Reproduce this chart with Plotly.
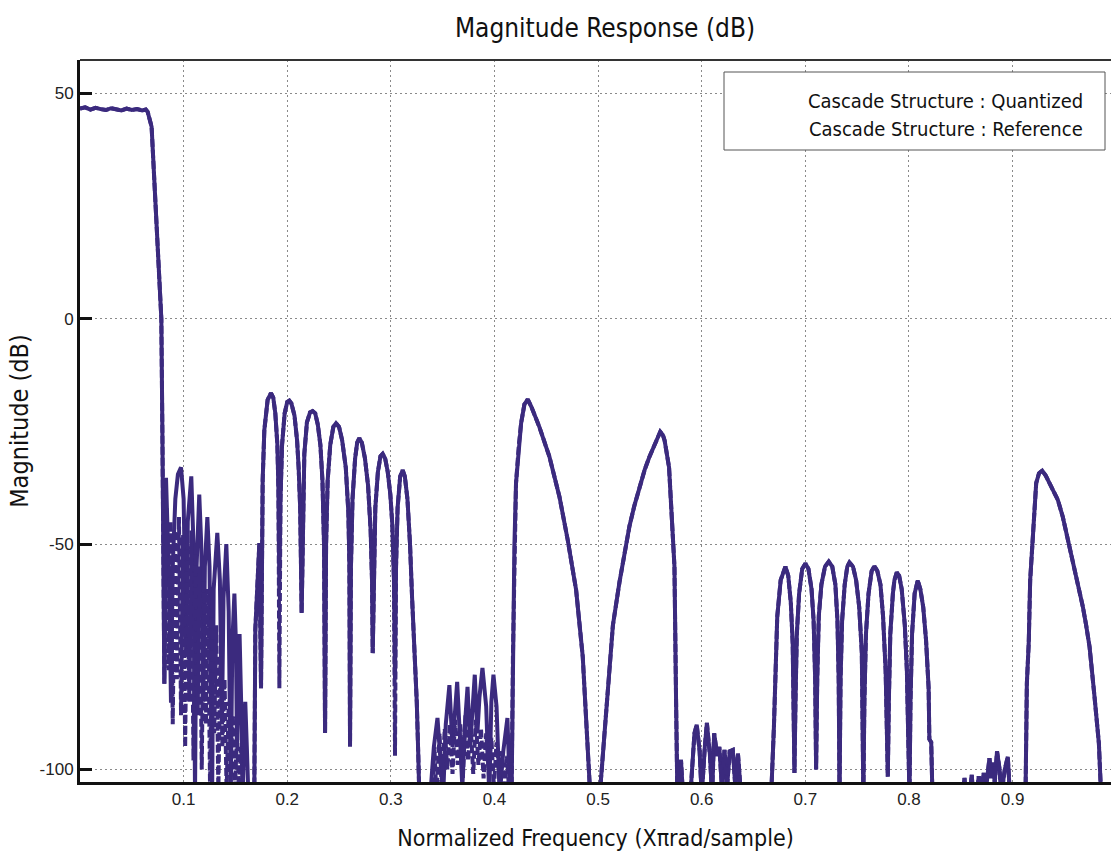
import plotly.graph_objects as go

# ---------------- data (normalized frequency, magnitude dB) ----------------
passband_f = [0.0, 0.005, 0.01, 0.015, 0.02, 0.025, 0.03, 0.035, 0.04, 0.045, 0.05, 0.055, 0.06, 0.0635,
              0.0653, 0.0691, 0.0708, 0.0727, 0.0749, 0.0765, 0.0785, 0.0795, 0.0805, 0.0814]
passband_db = [46.6, 46.9, 46.4, 46.8, 46.5, 46.3, 46.7, 46.5, 46.2, 46.6, 46.3, 46.5, 46.2, 46.4,
               45.9, 42.6, 35.0, 26.0, 17.0, 12.0, 0.0, -25.0, -55.0, -81.0]

# first stopband, quantized (solid)
stop1_q_f = [0.083, 0.0845, 0.0862, 0.0878, 0.0895, 0.092, 0.0945, 0.0975, 0.1, 0.1025, 0.104, 0.1074,
             0.1095, 0.111, 0.1125, 0.1151, 0.117, 0.119, 0.1205, 0.1229, 0.125, 0.1275, 0.129, 0.1325,
             0.135, 0.137, 0.1385, 0.1412, 0.1435, 0.1455, 0.147, 0.149, 0.1505, 0.1515, 0.1525, 0.154,
             0.1555, 0.157, 0.1585, 0.1595, 0.161, 0.1625, 0.1675]
stop1_q_db = [-35.3, -45, -60, -85.2, -55, -40, -34.5, -33, -40, -75, -45, -35,
              -50, -106, -55, -39, -50, -85, -55, -44, -55, -106, -60, -47.5,
              -58, -90, -62, -50, -65, -106, -72, -61, -72, -95, -80, -70,
              -85, -106, -92, -85, -95, -106, -106]

# first stopband, reference (dashed)
stop1_r_f = [0.0835, 0.0855, 0.0875, 0.0895, 0.0915, 0.0935, 0.0955, 0.0975, 0.0995, 0.1015, 0.1035,
             0.1055, 0.1075, 0.1095, 0.1115, 0.1135, 0.1155, 0.1175, 0.1195, 0.1215, 0.1235, 0.1255,
             0.1275, 0.1295, 0.1315, 0.1335, 0.1355, 0.1375, 0.1395, 0.1415, 0.1435, 0.1455, 0.1475,
             0.1495, 0.1515, 0.1535, 0.1555, 0.158, 0.1675]
stop1_r_db = [-42, -78, -45, -90, -47, -80, -44, -88, -48, -95, -50,
              -85, -47, -98, -52, -88, -55, -100, -58, -90, -60, -104,
              -65, -92, -68, -105, -75, -95, -80, -105, -85, -98, -88,
              -105, -92, -105, -95, -106, -106]

# lobes between 0.17 and 0.33
lobes_f = [0.1682, 0.1692, 0.1714, 0.1731, 0.1747, 0.1763, 0.1779, 0.1811, 0.1843, 0.1865, 0.1885, 0.1905,
           0.1915, 0.1924, 0.1935, 0.195, 0.1975, 0.2, 0.202, 0.204, 0.207, 0.2095, 0.211, 0.2125,
           0.2139, 0.2152, 0.2165, 0.219, 0.222, 0.2245, 0.227, 0.2295, 0.232, 0.234, 0.2355,
           0.2365, 0.2375, 0.239, 0.2415, 0.2445, 0.2471, 0.25, 0.253, 0.2565, 0.259, 0.26,
           0.2606, 0.2615, 0.263, 0.2655, 0.2675, 0.2696, 0.272, 0.275, 0.278, 0.2805, 0.2818,
           0.2825, 0.2835, 0.285, 0.2875, 0.29, 0.2921, 0.2945, 0.297, 0.2995, 0.3015, 0.303,
           0.304, 0.305, 0.3065, 0.309, 0.3114, 0.3135, 0.316, 0.3185, 0.3205, 0.3225, 0.325,
           0.3265, 0.3275]
lobes_q_db = [-106, -69, -55, -49.8, -82, -35.8, -24.7, -18, -16.5, -17.5, -21, -28,
              -38, -60, -40, -28, -21, -18.5, -18.2, -18.8, -21.5, -27, -33, -42,
              -65.3, -40, -30, -23, -20.8, -20.5, -21, -23.5, -28, -36, -50,
              -91.9, -50, -36, -28, -24, -23.2, -24, -27, -33, -43, -55,
              -94.9, -55, -40, -31, -27.5, -26.5, -27.5, -31, -37, -47, -58,
              -74.2, -55, -42, -34, -30.5, -30.0, -31, -34, -39, -46, -58,
              -80, -55, -42, -35, -33.6, -35, -40, -50, -62, -72, -85,
              -97, -106]
lobes_r_db = [-106, -69, -55, -49.8, -82, -35.8, -24.7, -18, -16.5, -17.5, -21, -28,
              -38, -82, -40, -28, -21, -18.5, -18.2, -18.8, -21.5, -27, -33, -42,
              -65.3, -40, -30, -23, -20.8, -20.5, -21, -23.5, -28, -36, -50,
              -91.9, -50, -36, -28, -24, -23.2, -24, -27, -33, -43, -55,
              -94.9, -55, -40, -31, -27.5, -26.5, -27.5, -31, -37, -47, -58,
              -74.2, -55, -42, -34, -30.5, -30.0, -31, -34, -39, -46, -58,
              -97, -55, -42, -35, -33.6, -35, -40, -50, -62, -72, -85,
              -97, -106]

# second stopband (0.33 - 0.42)
stop2_q_f = [0.338, 0.3415, 0.345, 0.3485, 0.3505, 0.353, 0.3565, 0.3595, 0.3615, 0.364, 0.3665, 0.369,
             0.3715, 0.374, 0.3765, 0.3785, 0.381, 0.3835, 0.3855, 0.3884, 0.392, 0.395, 0.397, 0.399,
             0.402, 0.405, 0.4085, 0.4125, 0.415]
stop2_q_db = [-106, -95, -88.6, -100, -106, -90, -81.3, -95, -88, -80.6, -92, -104,
              -90, -81.7, -95, -88, -79, -92, -84, -77.5, -86, -106, -85, -79,
              -86, -106, -96, -88.6, -106]
stop2_r_f = [0.34, 0.342, 0.344, 0.347, 0.349, 0.352, 0.3545, 0.357, 0.3595, 0.362, 0.3645, 0.367,
             0.3695, 0.372, 0.3745, 0.377, 0.3795, 0.382, 0.3845, 0.387, 0.3895, 0.392, 0.3945, 0.397,
             0.3995, 0.402, 0.4045, 0.407, 0.4095, 0.412, 0.4145]
stop2_r_db = [-106, -95, -106, -92, -104, -91, -100, -90, -101, -89, -99, -90,
              -102, -88, -98, -90, -101, -89, -99, -91, -102, -92, -100, -93,
              -104, -94, -101, -96, -106, -97, -106]

# remaining band (0.4165 - 1.0), shared
rest_f = [0.4165, 0.4178, 0.4192, 0.4208, 0.4235, 0.4257, 0.4289, 0.4321, 0.4355, 0.4433, 0.453, 0.4627,
          0.4707, 0.4788, 0.4852, 0.49, 0.4925, 0.5015, 0.5079, 0.5143, 0.5206, 0.5255, 0.5303, 0.535,
          0.5397, 0.545, 0.5493, 0.5545, 0.558, 0.56, 0.5625, 0.5642, 0.5685, 0.572, 0.5737, 0.5753, 0.5765,
          0.578, 0.58, 0.582, 0.589, 0.593, 0.5952, 0.598, 0.6, 0.603, 0.605, 0.608, 0.61, 0.612,
          0.615, 0.617, 0.6195, 0.622, 0.6245, 0.627, 0.63, 0.6325, 0.635, 0.638, 0.667,
          0.6697, 0.6713, 0.6729, 0.6762, 0.6808, 0.6835, 0.686, 0.6878, 0.689, 0.6895,
          0.6905, 0.6918, 0.694, 0.697, 0.7001, 0.703, 0.706, 0.708, 0.7095, 0.7104,
          0.7115, 0.713, 0.7155, 0.719, 0.7226, 0.726, 0.729, 0.731, 0.7322, 0.733,
          0.734, 0.7355, 0.738, 0.7405, 0.7426, 0.746, 0.749, 0.752, 0.7545, 0.7555, 0.756,
          0.757, 0.7585, 0.761, 0.764, 0.7667, 0.7695, 0.7725, 0.775, 0.7775, 0.7787, 0.7796,
          0.7806, 0.782, 0.7845, 0.786, 0.7883, 0.7905, 0.793, 0.796, 0.798, 0.7995, 0.8005,
          0.8015, 0.803, 0.8055, 0.8085, 0.811, 0.8138, 0.8165, 0.819, 0.8197, 0.8215, 0.8227,
          0.852, 0.8536, 0.855, 0.8585, 0.8606, 0.862, 0.865, 0.8674, 0.869, 0.8705, 0.8722,
          0.8745, 0.8777, 0.8795, 0.881, 0.8828, 0.885, 0.8875, 0.889, 0.8925, 0.8954, 0.8975,
          0.9125, 0.9138, 0.9156, 0.917, 0.9195, 0.9228, 0.9255, 0.9286, 0.932, 0.9356, 0.9395,
          0.9437, 0.9485, 0.9533, 0.957, 0.9614, 0.965, 0.9678, 0.971, 0.9743, 0.9791, 0.9833,
          0.9855, 1.0]
rest_db = [-106, -75, -50.6, -36.5, -28, -23.2, -19, -17.9, -19.5, -24, -30.6, -39.5,
           -49.1, -60.2, -75, -97.2, -106, -106, -86, -68, -58.5, -51.5, -46, -41.5,
           -37.5, -33.5, -30.8, -27.8, -26, -25.1, -25.8, -27, -33, -49.1, -55, -85.3, -106,
           -106, -97.9, -106, -106, -92, -90.1, -96, -106, -95, -89.7, -97, -106, -92,
           -97, -95, -104, -95.7, -104, -96, -95.7, -104, -96.5, -106, -106,
           -90.5, -80.1, -66.1, -58, -55.0, -57, -63, -72, -85, -100.8,
           -85, -70, -61, -55.5, -54.3, -55.5, -60, -67, -80, -100,
           -80, -66, -59, -55, -53.9, -55, -59, -67, -80, -106,
           -80, -67, -59, -55, -54.1, -55, -58, -64, -74, -90, -106,
           -85, -70, -61, -56, -54.9, -56, -59, -66, -78, -92, -101.6,
           -85, -70, -61, -58, -56.3, -57, -60, -68, -78, -92, -106,
           -85, -70, -61, -58.1, -60, -64, -71.3, -82, -93.3, -94, -106,
           -106, -101.9, -106, -106, -101.2, -106, -106, -101.5, -106, -103, -100.8,
           -104, -97.5, -102, -98.5, -103, -96, -100, -106, -100, -97.2, -106,
           -106, -80.9, -72, -58, -46.9, -36.5, -34.3, -33.7, -34.8, -36.5, -38,
           -40.2, -44, -49.1, -53, -57.2, -60.5, -63.9, -68, -72.8, -83.9, -94.2,
           -106, -106]

x_tick_vals = [0.1, 0.2, 0.3, 0.4, 0.5, 0.6, 0.7, 0.8, 0.9]
x_tick_text = ["0.1", "0.2", "0.3", "0.4", "0.5", "0.6", "0.7", "0.8", "0.9"]
y_tick_vals = [-100, -50, 0, 50]
y_tick_text = ["-100", "-50", "0", "50"]

series_names = ["Cascade Structure : Quantized", "Cascade Structure : Reference"]

# ---------------- assemble series ----------------
q_f = passband_f + stop1_q_f + lobes_f + stop2_q_f + rest_f
q_db = passband_db + stop1_q_db + lobes_q_db + stop2_q_db + rest_db
r_f = passband_f + stop1_r_f + lobes_f + stop2_r_f + rest_f
r_db = passband_db + stop1_r_db + lobes_r_db + stop2_r_db + rest_db

LINE_COLOR = "#3b2a7e"
COND = "DejaVu Sans Condensed, Liberation Sans Narrow, Arial Narrow, sans-serif"
REG = "Liberation Sans, Arial, sans-serif"

fig = go.Figure()
fig.add_trace(go.Scatter(x=q_f, y=q_db, mode="lines", name=series_names[0],
                         line=dict(color=LINE_COLOR, width=4), showlegend=False))
fig.add_trace(go.Scatter(x=r_f, y=r_db, mode="lines", name=series_names[1],
                         line=dict(color=LINE_COLOR, width=4, dash="8px,3px"), showlegend=False))

W, H = 1111, 856
ML, MR, MT, MB = 80, 0, 60, 74

fig.update_layout(
    width=W, height=H,
    margin=dict(l=ML, r=MR, t=MT, b=MB, autoexpand=False),
    paper_bgcolor="white", plot_bgcolor="white",
    title=dict(text="Magnitude Response (dB)", x=605 / W, xanchor="center",
               y=1 - 28 / H, yanchor="middle",
               font=dict(family=COND, size=26, color="#111")),
    showlegend=False,
)
fig.update_xaxes(
    range=[0, 0.995], tickmode="array", tickvals=x_tick_vals, ticktext=x_tick_text,
    showgrid=True, gridcolor="#8a8a8a", gridwidth=1, griddash="2px,3px",
    showline=True, linecolor="#111", linewidth=3, mirror=False,
    ticks="", zeroline=False,
    tickfont=dict(family=REG, size=17, color="#222"),
    title=dict(text="Normalized Frequency (X\u03c0rad/sample)", standoff=22,
               font=dict(family=COND, size=23, color="#111")),
    automargin=False,
)
fig.update_yaxes(
    range=[-102.8, 57.4], tickmode="array", tickvals=y_tick_vals, ticktext=y_tick_text,
    showgrid=True, gridcolor="#8a8a8a", gridwidth=1, griddash="2px,3px",
    showline=True, linecolor="#111", linewidth=3, mirror=False,
    ticks="inside", ticklen=12, tickwidth=3, tickcolor="#111", zeroline=False,
    tickfont=dict(family=REG, size=17, color="#222"),
    title=dict(text="Magnitude (dB)", standoff=4,
               font=dict(family=COND, size=25, color="#111")),
    automargin=False,
)

# top frame line
fig.add_shape(type="line", xref="paper", yref="paper", x0=0, x1=1, y0=1, y1=1,
              line=dict(color="#333", width=2))

# legend box drawn with text (no line samples, as in the original)
PW = W - ML - MR
PH = H - MT - MB
def px_x(px):
    return (px - ML) / PW
def px_y(py):
    return (H - MB - py) / PH

fig.add_shape(type="rect", xref="paper", yref="paper",
              x0=px_x(724), x1=px_x(1105), y0=px_y(150), y1=px_y(72),
              line=dict(color="#555", width=1), fillcolor="white", layer="above")
for name, ypx in zip(series_names, [101, 129]):
    fig.add_annotation(xref="paper", yref="paper", x=px_x(1085), y=px_y(ypx),
                       text=name, showarrow=False, xanchor="right", yanchor="middle",
                       font=dict(family=COND, size=20, color="#111"))

fig.write_html("out.html")
